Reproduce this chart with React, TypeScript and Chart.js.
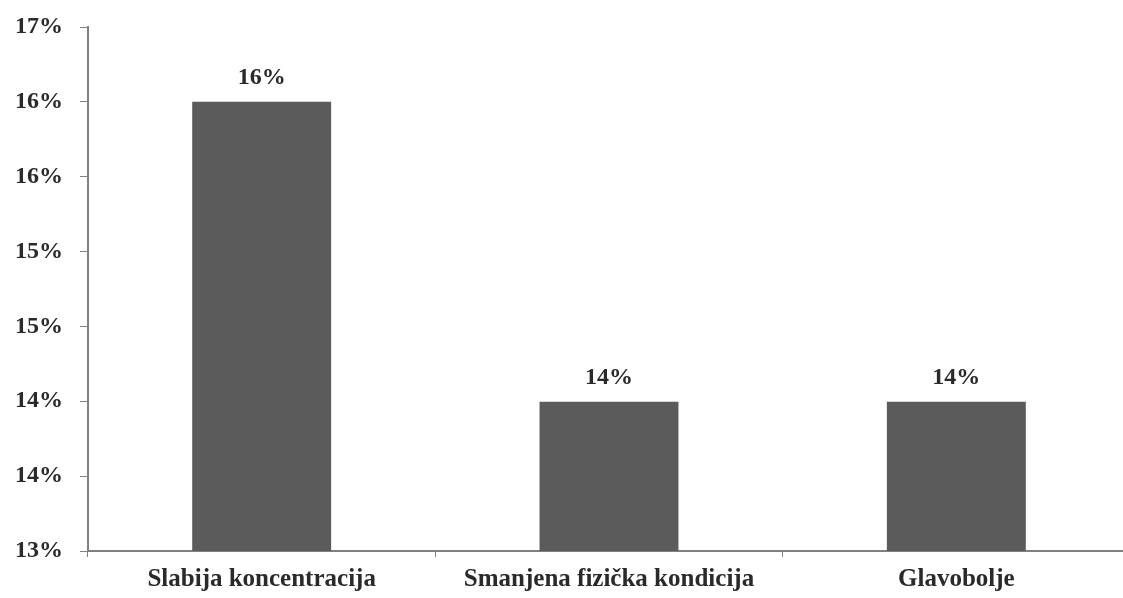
import React, { useEffect, useRef } from "react";
import { Chart, registerables } from "chart.js";

Chart.register(...registerables);

const categories = ["Slabija koncentracija", "Smanjena fizička kondicija", "Glavobolje"];
const values = [16.43, 14.14, 14.14];
const yTickValues = [13, 13.571, 14.143, 14.714, 15.286, 15.857, 16.429, 17];

const FONT = '"Liberation Serif", "Times New Roman", serif';

const valueLabels = {
  id: "valueLabels",
  afterDatasetsDraw(chart: any) {
    const ctx = chart.ctx;
    const meta = chart.getDatasetMeta(0);
    ctx.save();
    ctx.font = `bold 24px ${FONT}`;
    ctx.fillStyle = "#2a2a2a";
    ctx.textAlign = "center";
    ctx.textBaseline = "middle";
    meta.data.forEach((bar: any, i: number) => {
      ctx.fillText(Math.round(values[i]) + "%", bar.x, bar.y - 24);
    });
    ctx.restore();
  },
};

export default function App() {
  const ref = useRef<HTMLCanvasElement>(null);
  useEffect(() => {
    if (!ref.current) return;
    const chart = new Chart(ref.current, {
      type: "bar",
      data: {
        labels: categories,
        datasets: [
          {
            data: values,
            backgroundColor: "#5b5b5b",
            borderWidth: 0,
            barPercentage: 0.4,
            categoryPercentage: 1,
          },
        ],
      },
      options: {
        animation: false,
        responsive: false,
        maintainAspectRatio: false,
        layout: { padding: { top: 27, right: 0, bottom: 0, left: 0 } },
        plugins: { legend: { display: false }, tooltip: { enabled: false } },
        scales: {
          x: {
            grid: { display: true, drawOnChartArea: false, drawTicks: true, tickLength: 6, color: "#808080", offset: true },
            border: { color: "#808080", width: 2 },
            ticks: { color: "#2a2a2a", font: { family: FONT, size: 25, weight: "bold" }, padding: 8, maxRotation: 0 },
            afterFit: (s: any) => { s.height = 47; s.paddingLeft = 0; s.paddingRight = 0; },
          },
          y: {
            min: 13,
            max: 17,
            grid: { display: true, drawOnChartArea: false, drawTicks: true, tickLength: 8, color: "#808080" },
            border: { color: "#808080", width: 2 },
            afterBuildTicks: (s: any) => { s.ticks = yTickValues.map((v) => ({ value: v })); },
            ticks: {
              color: "#2a2a2a",
              font: { family: FONT, size: 24, weight: "bold" },
              padding: 17,
              callback: (v: any) => Math.round(Number(v)) + "%",
            },
            afterFit: (s: any) => { s.width = 88; s.paddingTop = 0; s.paddingBottom = 0; },
          },
        },
      },
      plugins: [valueLabels],
    });
    return () => chart.destroy();
  }, []);
  return (
    <div style={{ position: "fixed", left: 0, top: 0, width: 1123, height: 598, overflow: "hidden", background: "#fff" }}>
      <canvas ref={ref} width={1130} height={598} style={{ display: "block" }} />
    </div>
  );
}
